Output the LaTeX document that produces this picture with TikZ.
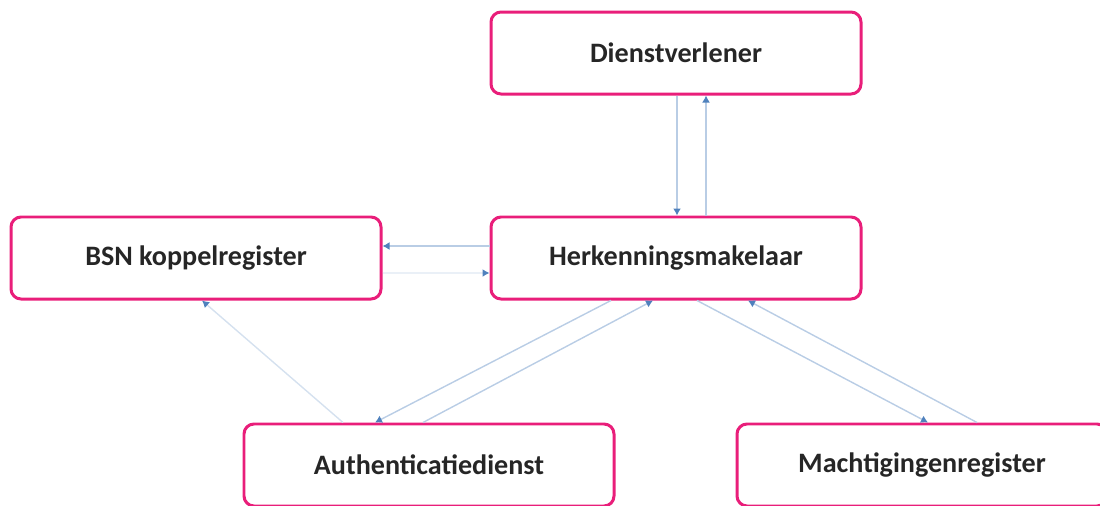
\documentclass[tikz,border=0pt]{standalone}
\usepackage{fontspec}
\setmainfont{Carlito}
\usepackage{tikz}
\usetikzlibrary{positioning, arrows.meta}

\definecolor{boxpink}{RGB}{233,30,122}
\definecolor{linkblue}{RGB}{185,205,229}
\definecolor{tipblue}{RGB}{79,129,189}

\begin{document}
\begin{tikzpicture}[
    party/.style={rectangle, rounded corners=2mm, draw=boxpink, line width=1.7pt, minimum width=7.4cm, minimum height=1.64cm, font=\fontsize{16}{19}\selectfont\bfseries, text=black!85},
    link/.style={draw=linkblue, line width=0.8pt, -{Latex[length=1.4mm, width=1.6mm, color=tipblue]}},
    ]
    \useasboundingbox (0,0) rectangle (22,-10.1);
    % Central node
    \node[party] (hm) at (13.52,-5.16) {Herkenningsmakelaar};
    % Service provider
    \node[party, above=2.4cm of hm] (dv) {Dienstverlener};
    % Register on the left
    \node[party, left=2.14cm of hm] (bsn) {BSN koppelregister};
    % Bottom row
    \node[party, below=2.44cm of hm, xshift=-4.94cm] (ad) {Authenticatiedienst};
    \node[party, below=2.44cm of hm, xshift=4.92cm] (mr) {Machtigingenregister};

    % Edges dv <-> hm
    \draw[link] ([xshift=0.02cm]dv.south) -- ([xshift=0.02cm]hm.north);
    \draw[link] ([xshift=0.6cm]hm.north) -- ([xshift=0.6cm]dv.south);

    % Edges hm <-> bsn
    \draw[link] ([yshift=0.24cm]hm.west) -- ([yshift=0.24cm]bsn.east);
    \draw[link, draw=linkblue!30] ([yshift=-0.3cm]bsn.east) -- ([yshift=-0.3cm]hm.west);

    % Edges ad -> bsn
    \draw[link, draw=linkblue!60] ([xshift=-1.72cm]ad.north) -- ([xshift=0.12cm]bsn.south);

    % Edges hm <-> ad
    \draw[link] ([xshift=-1.3cm]hm.south) -- ([xshift=-1.08cm]ad.north);
    \draw[link] ([xshift=-0.12cm]ad.north) -- ([xshift=-0.46cm]hm.south);

    % Edges hm <-> mr
    \draw[link] ([xshift=0.42cm]hm.south) -- ([xshift=0.12cm]mr.north);
    \draw[link] ([xshift=1.1cm]mr.north) -- ([xshift=1.44cm]hm.south);
\end{tikzpicture}
\end{document}
